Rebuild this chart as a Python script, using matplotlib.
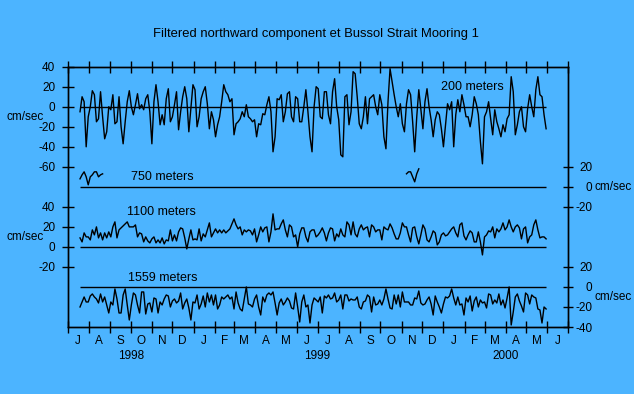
import matplotlib.pyplot as plt
import matplotlib.dates as mdates
import numpy as np

plt.rcParams['font.family'] = ['Liberation Sans', 'DejaVu Sans']

# filtered northward velocity (cm/sec), one reading every 3 days
start = np.datetime64('1998-07-19')
step = 3

v200 = [
    -5, 10, 5, -40, -10, 0, 16, 12, -15, -12,
    15, -10, -32, -25, 0, -3, 12, -17, -15, 10,
    -20, -37, -15, 5, 16, 0, -8, 2, 13, -2,
    2, -3, 8, 12, -5, -37, 5, 22, 5, -18,
    -8, -18, 8, 18, -15, -10, 2, 15, -23, -5,
    10, 20, 8, -25, -2, 22, 17, -20, -10, 8,
    15, 20, 3, -22, -5, -13, -30, -18, -10, 5,
    22, 15, 12, 5, 8, -28,
    -17, -15, -12, -5, -10, 2, -10, -12, -15, -13,
    -30, -17, -18, -7, -8, 2, 10, -5, -45, -30,
    8, 7, 12, -15, -5, 13, 15, -10, -15, 10,
    8, -15, -15, 0, 17, -5, -30, -45, 0, 20,
    18, -10, -12, 15, 15, -8, -17, 15, 28, 0,
    -13, -48, -50, 10, 12, -18, -5, 35, 33, 10,
    -17, -22, -10, 10, -17, 8, 10, 12, 0, -8,
    12, 2, -30, -42, 5, 38, 25, 12, 0, -10,
    3,
    -17, -25, 3, 17, 12, -15, -45, -10, 17, -2,
    -22, 5, 18, 0, -13, -30, -13, -5, -8, -22,
    -40, -18, 3, -3, 5, -40, -8, 7, -5, 12,
    2, -10, -10, -20, -8, 10, 3, -8, -35, -57,
    -10, -5, 5, -12, -28, -3, -15, -22, -30, -18,
    -25, -12, -8, 30, 15, -28, -18, -5, 0, -20,
    -25, -2, 12, 0, -10, 17, 30, 12, 10, -8,
    -22,
]

v1100 = [
    9, 5, 14, 10, 10, 7, 17, 12, 20, 9,
    14, 7, 14, 9, 15, 10, 20, 25, 9, 17,
    19, 21, 23, 25, 20, 20, 20, 22, 10, 14,
    13, 5, 10, 6, 4, 8, 10, 4, 7, 4,
    9, 3, 7, 6, 17, 6, 12, 6, 15, 19,
    18, 9, -2, 8, 17, 7, 8, 7, 18, 6,
    13, 10, 17, 24, 10, 14, 18, 14, 17, 14,
    17, 14, 16, 18, 23, 28,
    22, 18, 20, 12, 17, 15, 17, 16, 12, 18,
    5, 12, 20, 15, 19, 20, 5, 15, 33, 17,
    18, 18, 23, 27, 17, 10, 22, 20, 10, 12,
    0, 13, 19, 19, 10, 5, 15, 17, 17, 10,
    12, 15, 19, 14, 6, 14, 19, 18, 6, 13,
    10, 18, 12, 10, 25, 22, 12, 25, 13, 10,
    18, 22, 17, 19, 20, 10, 22, 20, 15, 17,
    17, 7, 20, 18, 17, 23, 19, 13, 8, 8,
    14,
    24, 20, 20, 12, 5, 19, 20, 10, 3, 12,
    22, 18, 7, 5, 10, 16, 14, 2, 5, 12,
    14, 11, 12, 15, 18, 20, 14, 10, 22, 24,
    11, 7, 12, 16, 14, 5, 5, 15, 5, -8,
    10, 12, 16, 15, 20, 9, 18, 15, 18, 24,
    17, 20, 27, 20, 15, 20, 22, 19, 8, 18,
    20, 4, 10, 12, 22, 27, 17, 9, 10, 10,
    8,
]

v1559 = [
    -20, -15, -10, -15, -15, -9, -7, -10, -12, -16,
    -7, -15, -10, -18, -26, -15, -18, -2, -12, -26,
    -26, -8, -2, -18, -33, -18, -6, -8, -18, -26,
    -5, -5, -27, -17, -16, -25, -11, -12, -26, -15,
    -18, -12, -8, -9, -20, -14, -12, -16, -14, -6,
    -22, -16, -12, -21, -33, -15, -16, -8, -22, -17,
    -9, -20, -6, -15, -8, -18, -8, -22, -18, -10,
    -12, -10, -8, -12, -10, -22,
    -5, -16, -22, -24, -12, 0, -17, -18, -20, -12,
    -8, -20, -28, -10, -15, -8, -6, -8, -5, -16,
    -28, -16, -12, -18, -15, -11, -14, -21, -22, -6,
    -20, -35, -15, -8, -20, -18, -36, -18, -11, -13,
    -15, -10, -26, -9, -11, -8, -12, -11, -6, -15,
    -13, -8, -22, -8, -8, -14, -12, -13, -13, -10,
    -20, -22, -15, -14, -8, -10, -25, -10, -18, -17,
    -13, -18, -12, -2, -12, -21, -22, -8, -17, -8,
    -20,
    -5, -15, -15, -15, -18, -18, -11, -12, -4, -16,
    -18, -17, -13, -10, -17, -28, -9, -15, -20, -26,
    -17, -10, -11, -9, -2, -11, -18, -10, -18, -17,
    -28, -11, -15, -9, -24, -14, -10, -20, -13, -16,
    -15, -21, -7, -8, -17, -13, -16, -7, -18, -13,
    -21, -11, 0, -38, -25, -10, -7, -14, -19, -25,
    -6, -8, -17, -8, -10, -11, -22, -23, -36, -20,
    -22,
]

# the 750 m meter only returned two short pieces
v750_a_start = np.datetime64('1998-07-19')
v750_a = [8, 12, 15, 10, 2, 10, 12, 15, 15, 10, 12, 13]
v750_b_start = np.datetime64('1999-11-08')
v750_b = [13, 15, 15, 10, 5, 13, 18]

years = ['1998', '1999', '2000']
year_dates = ['1998-10-01', '1999-07-01', '2000-04-01']

# vertical offsets used to stack the four depths on one axes
off200, off750, off1100, off1559 = 0, -80, -140, -180

bg = '#4cb4ff'


def days(t0, n):
    return t0 + np.arange(n) * np.timedelta64(step, 'D')


t = days(start, len(v200))

fig = plt.figure(figsize=(6.34, 3.94), dpi=100, facecolor=bg)
ax = fig.add_axes([67.7 / 634, 1 - 327 / 394, 500.3 / 634, 260.3 / 394])
ax.set_facecolor(bg)

lw = 1.0
ax.plot(t, np.array(v200) + off200, color='black', lw=lw)
ax.plot(t, np.array(v1100) + off1100, color='black', lw=lw)
ax.plot(t, np.array(v1559) + off1559, color='black', lw=lw)
ax.plot(days(v750_a_start, len(v750_a)), np.array(v750_a) + off750, color='black', lw=lw)
ax.plot(days(v750_b_start, len(v750_b)), np.array(v750_b) + off750, color='black', lw=lw)

# zero lines over the length of the record
for o in [off200, off750, off1100, off1559]:
    ax.hlines(o, t[0], t[-1], color='black', lw=lw)

ax.set_xlim(np.datetime64('1998-07-01'), np.datetime64('2000-07-01'))
ax.set_ylim(-220, 40)

# left scale: 200 m and 1100 m
ax.set_yticks([40, 20, 0, -20, -40, -60, -100, -120, -140, -160])
ax.set_yticklabels(['40', '20', '0', '-20', '-40', '-60', '40', '20', '0', '-20'])
ax.tick_params(axis='y', direction='inout', length=9, width=1, pad=4.4, labelsize=8.5)

# right scale: 750 m and 1559 m
ax2 = ax.twinx()
ax2.set_ylim(ax.get_ylim())
ax2.set_yticks([-60, -80, -100, -160, -180, -200, -220])
ax2.set_yticklabels(['20', '0', '-20', '20', '0', '-20', '-40'])
ax2.tick_params(axis='y', direction='inout', length=7, width=1, pad=14, labelsize=8.5)
for lbl in ax2.get_yticklabels():
    lbl.set_horizontalalignment('right')

# months: ticks at month start, letter in the middle of the month
ax.xaxis.set_major_locator(mdates.MonthLocator())
ax.xaxis.set_major_formatter(plt.NullFormatter())
ax.xaxis.set_minor_locator(mdates.MonthLocator(bymonthday=16))
ax.xaxis.set_minor_formatter(plt.FuncFormatter(lambda x, pos: mdates.num2date(x).strftime('%b')[0]))
ax.tick_params(axis='x', which='major', direction='inout', length=8, width=1, top=True)
ax.tick_params(axis='x', which='minor', length=0, pad=6, labelsize=8.5)

for sp in list(ax.spines.values()) + list(ax2.spines.values()):
    sp.set_linewidth(1.0)

xt = ax.get_xaxis_transform()
for y, d in zip(years, year_dates):
    ax.text(np.datetime64(d), -0.111, y, transform=xt, ha='center', va='center', fontsize=8.5)

yt = ax.get_yaxis_transform()
ax.text(-0.1233, -10, 'cm/sec', transform=yt, ha='left', va='center', fontsize=8.5)
ax.text(-0.1233, -130, 'cm/sec', transform=yt, ha='left', va='center', fontsize=8.5)
ax.text(1.052, -80, 'cm/sec', transform=yt, ha='left', va='center', fontsize=8.5)
ax.text(1.052, -190, 'cm/sec', transform=yt, ha='left', va='center', fontsize=8.5)

ax.text(np.datetime64('2000-02-13'), 20, '200 meters', ha='center', va='center', fontsize=9)
ax.text(np.datetime64('1998-11-16'), off750 + 10, '750 meters', ha='center', va='center', fontsize=9)
ax.text(np.datetime64('1998-11-15'), off1100 + 34.5, '1100 meters', ha='center', va='center', fontsize=9)
ax.text(np.datetime64('1998-11-17'), off1559 + 9, '1559 meters', ha='center', va='center', fontsize=9)

fig.text(0.498, 1 - 34 / 394, 'Filtered northward component et Bussol Strait Mooring 1',
         ha='center', va='center', fontsize=9.4)

fig.savefig('out.png', dpi=100, facecolor=bg)
